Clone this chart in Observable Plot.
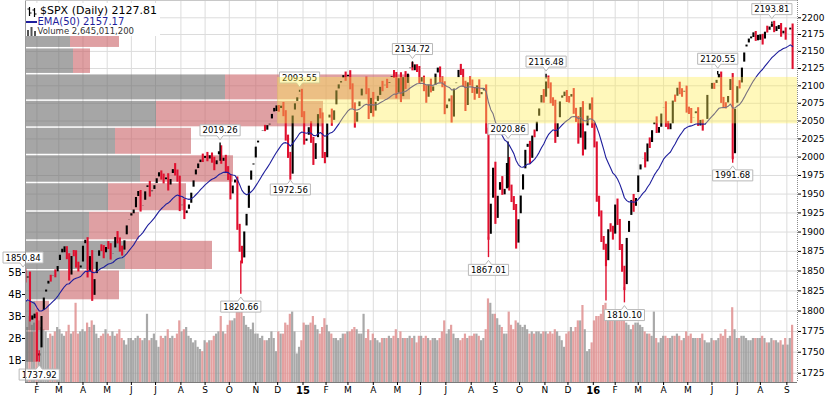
<!DOCTYPE html>
<html><head><meta charset="utf-8">
<script src="https://cdn.jsdelivr.net/npm/d3@7"></script>
<script src="https://cdn.jsdelivr.net/npm/@observablehq/plot@0.6"></script>
<style>
html,body{margin:0;padding:0;background:#fff;}
#wrap{position:relative;width:833px;height:397px;overflow:hidden;font-family:"DejaVu Sans",Verdana,sans-serif;}
#wrap > svg{position:absolute;left:0;top:0;}
#legend{position:absolute;left:26px;top:3px;width:134px;height:33px;background:#fff;}
#legend .t{position:absolute;white-space:nowrap;}
</style></head><body><div id="wrap"></div>
<script>
// ---- data: S&P 500 daily, sampled every 2 trading days from 15 Jan 2014 (index = trading day) ----
const STEP = 2;
const close = [
1848.4,1838.7,1844.9,1790.3,1792.5,1794.2,
1741.9,1751.6,1797.0,1819.8,1829.8,1840.8,1839.8,1847.6,1845.2,1859.5,
1873.9,1877.0,1877.2,1868.2,1841.1,1872.3,1872.0,1857.4,1852.6,1857.6,
1885.5,1888.8,1845.0,1872.2,1815.7,1842.9,1864.9,1879.6,1878.6,1869.4,1883.9,
1881.1,1867.7,1875.6,1896.7,1888.5,1877.9,1872.8,1892.5,1911.9,1920.0,
1924.9,1927.9,1949.4,1950.8,1930.1,1937.8,1957.0,1962.9,1950.0,1957.2,1960.2,
1974.6,1977.1,1972.8,1967.6,1973.3,1958.1,1973.6,1987.0,1978.3,1970.0,1930.7,
1939.0,1920.2,1931.6,1933.8,1955.2,1971.7,1986.5,1988.4,2000.0,1996.7,
2002.3,1997.7,2001.5,1995.7,1985.5,1999.0,2011.4,1994.3,1998.3,1982.9,1972.3,
1946.2,1964.8,1968.9,1906.1,1877.7,1862.8,1904.0,1927.1,1964.6,1985.1,1994.7,
2017.8,2023.6,2031.9,2039.7,2039.3,2041.3,2048.7,2063.5,2067.0,2067.6,
2066.6,2071.9,2060.3,2026.1,2002.3,1972.7,2061.2,2078.5,2081.9,2090.6,2058.9,
2020.6,2025.9,2044.8,2023.0,1992.7,2022.6,2063.2,2057.1,2002.2,1995.0,
2050.0,2062.5,2046.7,2068.5,2097.0,2099.7,2110.3,2115.5,2110.7,
2117.4,2098.5,2071.3,2044.2,2066.0,2081.2,2099.5,2108.1,2091.5,2056.2,2086.2,
2059.7,2080.6,2081.9,2102.1,2095.8,2105.0,2100.4,2108.0,2117.7,2114.8,2085.5,
2114.5,2080.2,2116.1,2099.1,2121.1,2129.2,2125.9,2126.1,2123.5,2107.4,
2109.6,2095.8,2079.3,2105.2,2094.1,2096.3,2121.2,2122.9,2108.6,2101.5,2063.1,
2076.8,2081.3,2051.3,2099.6,2107.4,2126.6,2119.2,2102.2,2067.6,2108.6,2104.0,
2093.3,2083.6,2104.2,2086.1,2091.5,2096.9,2035.7,1893.2,1940.5,1988.9,
1913.9,1951.1,1969.4,1952.3,1953.0,1995.3,1958.0,1942.7,1932.2,1881.8,1920.0,
1951.4,1979.9,2013.4,2017.5,1994.2,2033.1,2030.8,2052.5,2071.2,2090.4,2079.4,
2109.8,2099.9,2078.6,2075.0,2023.0,2050.4,2081.2,2086.6,2088.9,2080.4,
2079.5,2091.7,2063.6,2052.2,2021.9,2073.1,2005.6,2039.0,2061.0,2078.4,2043.9,
2016.7,1943.1,1923.7,1890.3,1880.3,1859.3,1906.9,1903.6,1893.4,
1939.4,1912.5,1880.0,1852.2,1829.1,1895.6,1917.8,1945.5,1929.8,1948.1,
1978.4,1993.4,2001.8,1989.3,2022.2,2015.9,2040.6,2051.6,2036.7,2037.1,2064.0,
2072.8,2045.2,2041.9,2042.0,2082.4,2080.7,2100.8,2091.5,2087.8,2095.2,2065.3,
2063.4,2050.6,2058.7,2064.5,2046.6,2047.2,2040.0,2048.0,2090.5,2099.1,
2099.3,2099.1,2112.1,2115.5,2079.1,2071.5,2071.2,2088.9,2113.3,2000.5,2070.8,
2103.0,2099.7,2129.9,2152.1,2163.8,2166.9,2173.0,2175.0,2169.2,2170.1,
2170.8,2163.8,2182.9,2181.7,2185.8,2190.2,2182.2,2183.9,2186.9,2175.4,2180.4,2171.0,
2180.0,2186.2,2127.8];
// volume, billions of shares, same sampling
const volume = [
2.4,2.3,2.5,3.0,2.6,2.7,
3.3,2.8,2.5,2.4,2.3,2.0,2.2,2.1,2.3,2.5,
2.4,2.2,2.1,2.3,2.6,2.2,2.3,3.6,2.2,2.3,
2.4,2.3,2.7,2.5,2.8,2.6,2.2,2.0,2.1,2.2,2.4,
2.2,2.1,2.3,2.1,2.2,2.4,2.0,1.9,1.7,2.0,
2.0,1.9,2.0,2.1,2.0,1.9,2.0,3.1,1.9,2.0,2.2,
1.9,1.6,2.1,2.0,2.1,2.4,2.0,2.1,2.0,2.2,2.8,
2.3,2.4,2.5,2.1,2.0,1.8,1.9,1.6,1.5,1.4,
1.9,1.8,1.9,1.9,2.1,2.2,2.3,3.0,2.3,2.2,2.6,
2.8,2.8,2.9,3.2,3.4,3.6,3.0,2.6,2.5,2.4,2.7,
2.2,2.2,2.0,2.1,1.9,1.9,2.0,2.3,2.0,1.4,
2.3,2.2,2.2,2.7,2.6,3.1,3.2,2.3,1.3,1.6,1.9,
2.7,2.6,2.6,2.7,3.0,2.6,2.4,2.2,2.5,2.9,
2.6,2.3,2.2,2.0,2.0,1.9,2.0,2.2,2.2,
2.3,2.3,2.4,2.5,2.4,2.2,2.2,3.1,2.0,2.4,1.9,
2.2,2.0,1.9,1.8,2.0,2.0,2.0,2.1,2.0,2.1,2.4,
2.0,2.3,2.0,2.0,2.0,2.1,2.0,2.1,1.8,2.1,
2.1,2.0,2.1,2.0,1.9,2.0,2.0,1.9,2.0,2.3,2.8,
2.2,2.4,2.6,2.2,2.0,2.0,1.9,2.0,2.2,2.0,2.1,
2.1,2.2,2.2,2.1,1.9,2.0,2.4,3.8,3.6,3.1,
3.1,2.9,2.6,2.5,2.2,2.2,3.2,2.6,2.4,2.8,2.7,
2.6,2.5,2.6,2.4,2.2,2.3,2.2,2.3,2.3,2.2,2.3,
2.3,2.2,2.3,2.2,2.4,2.3,2.1,1.9,1.6,2.2,
2.3,2.5,2.3,2.5,2.8,2.8,3.5,2.4,1.4,1.5,1.8,
2.8,3.0,3.0,3.1,3.5,3.6,3.2,2.8,3.0,
3.0,3.1,3.0,3.1,3.2,2.7,2.6,2.4,2.6,2.7,
2.7,2.6,2.5,2.3,2.2,2.2,2.1,3.2,2.0,1.8,2.0,
2.1,2.1,2.0,2.0,2.1,2.1,2.2,2.1,1.9,2.0,2.3,
2.1,2.2,2.0,2.0,2.0,2.0,2.2,1.9,1.8,1.8,
2.0,1.9,1.9,2.0,2.2,2.1,2.4,2.0,2.1,3.4,2.4,
2.0,2.0,2.1,2.1,2.0,1.9,1.9,2.0,2.0,2.0,
2.0,2.1,2.0,1.8,1.8,2.0,1.9,1.9,1.8,1.9,1.7,2.0,
1.7,2.0,2.6];
const emaSeed = 1806;              // EMA(50) value at the left edge
// labelled highs / lows (trading-day index, price)
const extremeIdx = [0,14,171,189,232,240,338,404,421,454,522,603,616,650];
const extremeVal = [1850.84,1737.92,2019.26,1820.66,1972.56,2093.55,2134.72,1867.01,2020.86,2116.48,1810.10,2120.55,1991.68,2193.81];
const extremeKind = ["high","low","high","low","low","high","high","low","high","high","low","high","low","high"];
const spikeIdx = [506];
const spikeVal = [1812.29];
// volume by price, 12 bins from the period low to the period high (billions: up / down)
const vbpUp   = [8, 10, 35, 100, 64, 83, 115, 90, 131, 200, 48, 45];
const vbpDown = [4, 14, 59, 87, 50, 78, 93, 76, 167, 185, 17, 49];
// highlighted zone
const zoneStart = 221, zoneLow = 2046, zoneHigh = 2112;
// axes
const monthTickIdx = [12,31,52,73,94,115,137,158,179,202,221,263,282,304,325,345,367,389,410,431,453,473,514,534,556,577,598,620,640,663];
const monthTickLabel = ["F","M","A","M","J","J","A","S","O","N","D","F","M","A","M","J","J","A","S","O","N","D","F","M","A","M","J","J","A","S"];
const yearTickIdx = [243,495];
const yearTickLabel = ["15","16"];
const priceTicks = [1725,1750,1775,1800,1825,1850,1875,1900,1925,1950,1975,2000,2025,2050,2075,2100,2125,2150,2175,2200];
const volumeTicks = [1,2,3,4,5];

// ---- layout ----
const W = 833, H = 397, mL = 25, mR = 36, mT = 0, mB = 15;
const xDom = [2.1, 672.25];
const yDom = [1714.1, 2226.2];
const pxPerIdx = (W - mL - mR) / (xDom[1] - xDom[0]);
const volPxPerB = 22;
const vbpPxPerB = 1;
const UP = "#000000", DOWN = "#e0102f";
const font = {fontFamily: "DejaVu Sans, Verdana, sans-serif", fontSize: "9px", background: "transparent", overflow: "visible", color: "#000"};
const base = {width: W, height: H, marginLeft: mL, marginRight: mR, marginTop: mT, marginBottom: mB, style: font};

const bars = close.map((c, k) => ({i: k * STEP, c, p: k ? close[k - 1] : c, up: k ? c >= close[k - 1] : true, v: volume[k]}));
const alpha = 1 - Math.pow(1 - 2 / 51, STEP);
let e = emaSeed;
const ema = bars.map(b => { e = e + alpha * (b.c - e); return {i: b.i, e}; });
const ext = extremeIdx.map((i, j) => ({i, v: extremeVal[j], kind: extremeKind[j], c: close[Math.min(close.length - 1, Math.round(i / STEP))]}));
const spikes = ext.concat(spikeIdx.map((i, j) => ({i, v: spikeVal[j], kind: "low", c: close[Math.round(i / STEP)]})));
const lo = d3.min(extremeVal), hi = d3.max(extremeVal);
const vbp = vbpUp.map((u, j) => ({lo: lo + (hi - lo) * j / 12, hi: lo + (hi - lo) * (j + 1) / 12, up: u, down: vbpDown[j]}));
const monthLab = new Map(monthTickIdx.map((d, j) => [d, monthTickLabel[j]]));
const yearLab = new Map(yearTickIdx.map((d, j) => [d, yearTickLabel[j]]));
const labelKind = new Map(ext.map(d => [d.v.toFixed(2), d.kind]));

// layer 1: grid
const grid = Plot.plot({...base,
  x: {domain: xDom, axis: null}, y: {type: "log", domain: yDom, axis: null},
  marks: [
    Plot.ruleY(priceTicks, {stroke: "#dcdcdc"}),
    Plot.ruleX(monthTickIdx.concat(yearTickIdx), {stroke: "#dcdcdc"})
  ]});

// layer 2: volume
const vol = Plot.plot({...base,
  x: {domain: xDom, axis: null}, y: {domain: [0, (H - mT - mB) / volPxPerB], axis: null},
  marks: [
    Plot.rectY(bars.filter(d => d.up), {x1: d => d.i - 0.95, x2: d => d.i + 0.95, y1: () => 0, y2: "v", fill: "#9a9a9a", fillOpacity: 0.85, clip: true}),
    Plot.rectY(bars.filter(d => !d.up), {x1: d => d.i - 0.95, x2: d => d.i + 0.95, y1: () => 0, y2: "v", fill: "#df8f8f", fillOpacity: 0.85, clip: true}),
    Plot.axisY(volumeTicks, {anchor: "left", label: null, tickSize: 3, tickPadding: 1, tickFormat: d => d + "B", fontSize: 10})
  ]});

// layer 3: price
const price = Plot.plot({...base,
  x: {domain: xDom, axis: null}, y: {type: "log", domain: yDom, axis: null},
  marks: [
    Plot.rectX(vbp, {y1: "lo", y2: "hi", x1: () => xDom[0], x2: d => xDom[0] + d.up * vbpPxPerB / pxPerIdx, fill: "#6b6b6b", fillOpacity: 0.6, insetTop: 1.5}),
    Plot.rectX(vbp, {y1: "lo", y2: "hi", x1: d => xDom[0] + d.up * vbpPxPerB / pxPerIdx, x2: d => xDom[0] + (d.up + d.down) * vbpPxPerB / pxPerIdx, fill: "#c96166", fillOpacity: 0.6, insetTop: 1.5}),
    Plot.ruleX(bars.filter(d => d.up), {x: "i", y1: "p", y2: "c", stroke: UP, strokeWidth: 2.1, insetTop: -3, insetBottom: -3, clip: true}),
    Plot.ruleX(bars.filter(d => !d.up), {x: "i", y1: "p", y2: "c", stroke: DOWN, strokeWidth: 2.1, insetTop: -3, insetBottom: -3, clip: true}),
    Plot.ruleX(spikes, {x: "i", y1: "c", y2: "v", stroke: d => d.kind === "low" ? DOWN : UP, strokeWidth: 1.4, clip: true}),
    Plot.line(ema, {x: "i", y: "e", stroke: "#1e1e9c", strokeWidth: 1.1, clip: true}),
    Plot.text(ext.filter(d => d.kind === "high"), {x: "i", y: "v", text: d => d.v.toFixed(2), dy: -12.5, fontSize: 8.5, fill: "#000"}),
    Plot.text(ext.filter(d => d.kind === "low"), {x: "i", y: "v", text: d => d.v.toFixed(2), dy: 12.5, fontSize: 8.5, fill: "#000"}),
    Plot.rect([0], {x1: () => zoneStart, x2: () => xDom[1], y1: () => zoneLow, y2: () => zoneHigh, fill: "#ffee55", fillOpacity: 0.4}),
    Plot.ruleX([xDom[0]], {stroke: "#9a9a9a"}),
    Plot.ruleX([xDom[1]], {stroke: "#8a8a8a", strokeDasharray: "1,1"}),
    Plot.ruleY([yDom[0]], {stroke: "#7a7a7a"}),
    Plot.ruleY([yDom[1]], {stroke: "#c8c8c8"}),
    Plot.axisY(priceTicks, {anchor: "right", label: null, tickSize: 3, tickPadding: 1, tickFormat: d => String(d), fontSize: 9}),
    Plot.axisX(monthTickIdx, {anchor: "bottom", label: null, tickSize: 3, tickPadding: 1, tickFormat: d => monthLab.get(d), fontSize: 9}),
    Plot.axisX(yearTickIdx, {anchor: "bottom", label: null, tickSize: 3, tickPadding: 1, tickFormat: d => yearLab.get(d), fontSize: 10, fontWeight: "bold"})
  ]});

const wrap = document.getElementById("wrap");
wrap.append(grid, vol, price);

// boxes with a pointer behind the high / low labels
try {
  Array.from(price.querySelectorAll("text")).forEach(txt => {
    const kind = labelKind.get((txt.textContent || "").trim());
    if (!kind) return;
    const b = txt.getBBox();
    if (!b || !b.width) return;
    const l = b.x - 2.5, r = b.x + b.width + 2.5, t = b.y - 0.5, bt = b.y + b.height + 0.5;
    const cx = b.x + b.width / 2;
    const d = kind === "high"
      ? `M${l},${t}H${r}V${bt}H${cx + 3}L${cx},${bt + 4}L${cx - 3},${bt}H${l}Z`
      : `M${l},${bt}H${r}V${t}H${cx + 3}L${cx},${t - 4}L${cx - 3},${t}H${l}Z`;
    const p = document.createElementNS("http://www.w3.org/2000/svg", "path");
    p.setAttribute("d", d);
    p.setAttribute("fill", "#fff");
    p.setAttribute("stroke", "#b8b8b8");
    const tr = txt.getAttribute("transform");
    if (tr) p.setAttribute("transform", tr);
    txt.parentNode.insertBefore(p, txt);
  });
} catch (err) { console.error(err); }

// legend
const lg = document.createElement("div");
lg.id = "legend";
lg.innerHTML = `
 <svg width="12" height="12" style="position:absolute;left:1px;top:3px"><path d="M2.5 1v9M0.5 3h2M2.5 7h2M7.5 2v9M5.5 4h2M7.5 8h2" stroke="#000" stroke-width="1.2" fill="none"/></svg>
 <div class="t" style="left:14px;top:1px;font-size:11px;line-height:13px;color:#000">$SPX (Daily) 2127.81</div>
 <div style="position:absolute;left:0px;top:17.5px;width:11px;height:2.2px;background:#1e1e9c"></div>
 <div class="t" style="left:11.5px;top:12.5px;font-size:10px;line-height:12px;color:#1e1e9c">EMA(50) 2157.17</div>
 <svg width="11" height="10" style="position:absolute;left:0px;top:23px"><path d="M1 4h2v6h-2zM4.5 1h2v9h-2zM8 5h2v5h-2z" fill="#555"/></svg>
 <div class="t" style="left:11.5px;top:23px;font-size:8.5px;line-height:10px;color:#333">Volume 2,645,011,200</div>`;
wrap.append(lg);
</script></body></html>
